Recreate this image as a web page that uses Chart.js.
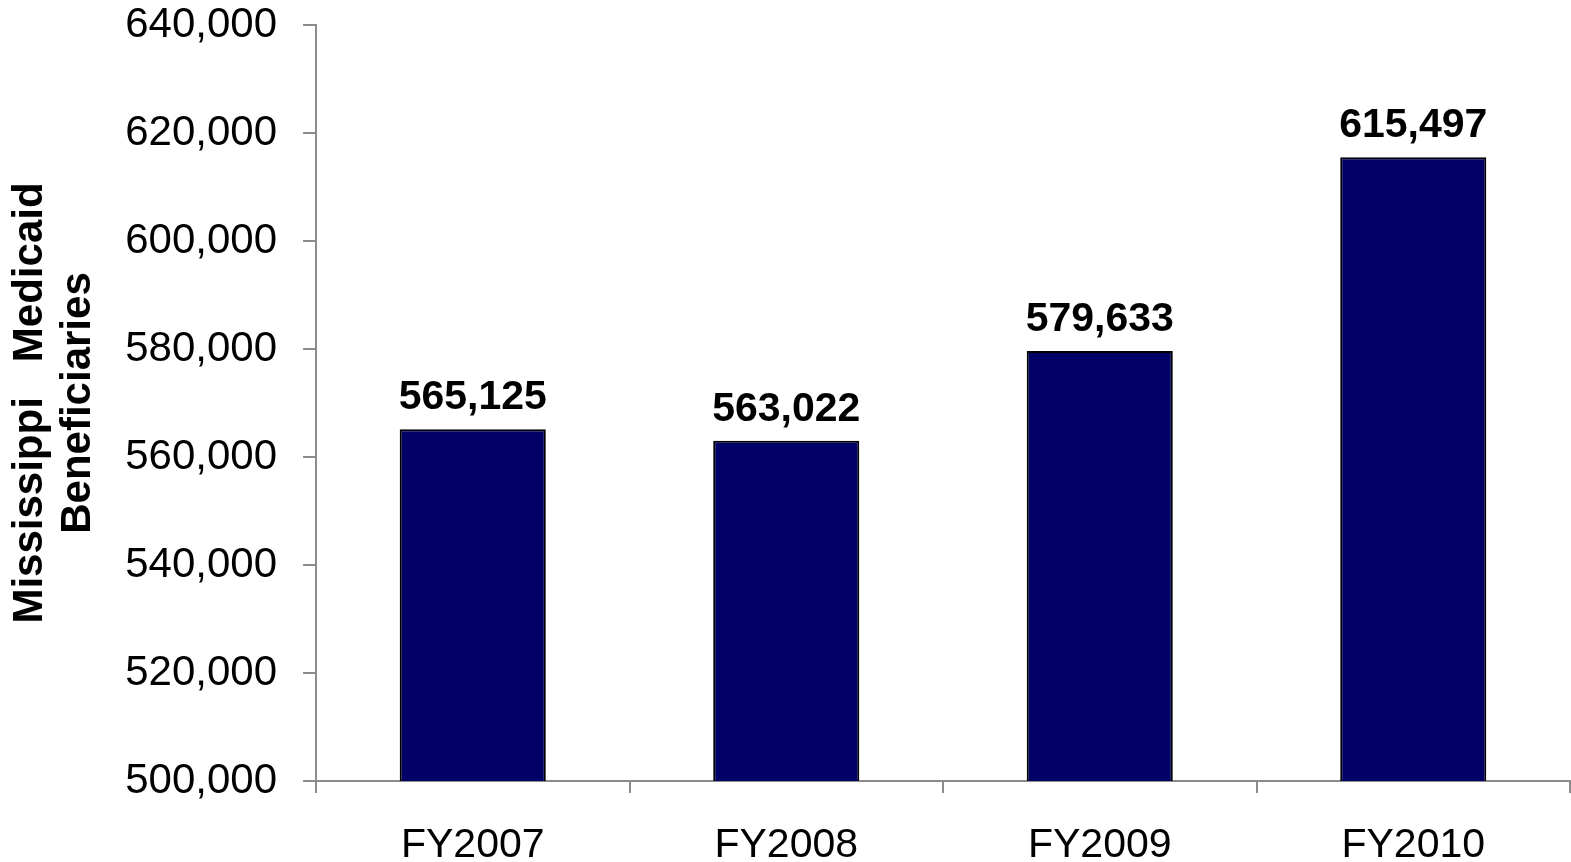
<!DOCTYPE html>
<html>
<head>
<meta charset="utf-8">
<title>Mississippi Medicaid Beneficiaries</title>
<script src="https://cdn.jsdelivr.net/npm/chart.js@4/dist/chart.umd.min.js"></script>
<style>
    html, body { margin: 0; padding: 0; background: #fff; }
    #wrap { width: 1571px; height: 862px; position: relative; }
</style>
</head>
<body>
<div id="wrap"><canvas id="chart"></canvas></div>
<script>
    var fiscalYears = ['FY2007', 'FY2008', 'FY2009', 'FY2010'];
    var beneficiaries = [565125, 563022, 579633, 615497];
    var yMin = 500000, yMax = 640000, yStep = 20000;

    var fontFamily = '"Liberation Sans", Arial, Helvetica, sans-serif';
    var axisGray = '#8c8c8c';

    var formatNumber = function (n) {
        return Number(n).toLocaleString('en-US');
    };

    // value labels above each bar
    var barLabels = {
        id: 'barLabels',
        afterDatasetsDraw: function (chart) {
            var ctx = chart.ctx;
            var meta = chart.getDatasetMeta(0);
            ctx.save();
            ctx.font = 'bold 41px ' + fontFamily;
            ctx.fillStyle = '#000';
            ctx.textAlign = 'center';
            ctx.textBaseline = 'alphabetic';
            meta.data.forEach(function (bar, i) {
                ctx.fillText(formatNumber(beneficiaries[i]), bar.x, bar.y - 20);
            });
            ctx.restore();
        }
    };

    new Chart(document.getElementById('chart'), {
        type: 'bar',
        data: {
            labels: fiscalYears,
            datasets: [{
                data: beneficiaries,
                backgroundColor: '#000066',
                borderColor: '#000000',
                borderWidth: 2,
                borderSkipped: 'bottom',
                categoryPercentage: 1,
                barPercentage: 0.466
            }]
        },
        options: {
            responsive: true,
            maintainAspectRatio: false,
            animation: false,
            layout: { padding: { left: 0, right: 1, top: 0, bottom: 0 } },
            plugins: {
                legend: { display: false },
                tooltip: { enabled: false }
            },
            scales: {
                x: {
                    grid: {
                        display: true,
                        drawOnChartArea: false,
                        drawTicks: true,
                        tickLength: 12,
                        color: axisGray,
                        lineWidth: 2,
                        offset: true
                    },
                    border: { display: true, color: axisGray, width: 2 },
                    ticks: {
                        color: '#000',
                        padding: 28,
                        font: { family: fontFamily, size: 41 }
                    },
                    afterFit: function (scale) { scale.height = 81; }
                },
                y: {
                    min: yMin,
                    max: yMax,
                    grid: {
                        display: true,
                        drawOnChartArea: false,
                        drawTicks: true,
                        tickLength: 13,
                        color: axisGray,
                        lineWidth: 2
                    },
                    border: { display: true, color: axisGray, width: 2 },
                    ticks: {
                        stepSize: yStep,
                        color: '#000',
                        padding: 26,
                        font: { family: fontFamily, size: 42 },
                        callback: function (v) { return formatNumber(v); }
                    },
                    title: {
                        display: true,
                        text: ['Mississippi   Medicaid', 'Beneficiaries'],
                        color: '#000',
                        padding: { top: 6, bottom: 0 },
                        font: { family: fontFamily, size: 42, weight: 'bold', lineHeight: 1.143 }
                    },
                    afterFit: function (scale) {
                        scale.width = 316;
                        scale.paddingTop = 25;
                        scale.paddingBottom = 0;
                    }
                }
            }
        },
        plugins: [barLabels]
    });
</script>
</body>
</html>
